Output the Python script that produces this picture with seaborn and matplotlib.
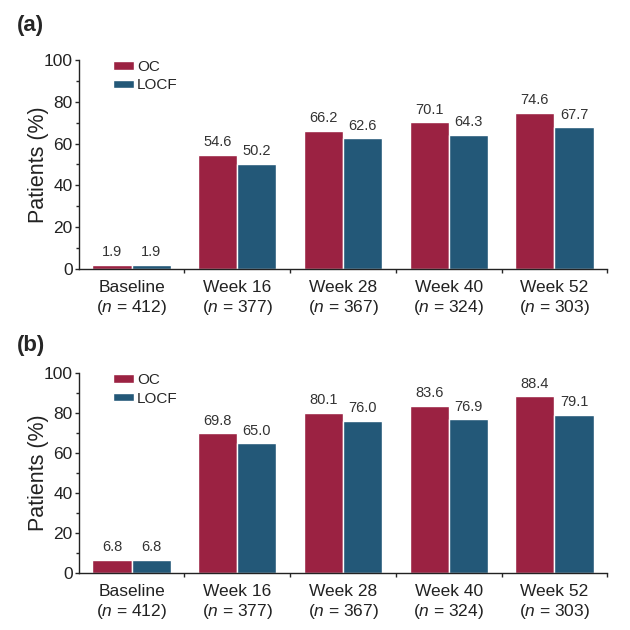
import numpy as np
import pandas as pd
import matplotlib
matplotlib.use("Agg")
import matplotlib.pyplot as plt
import seaborn as sns

# Data
timepoints = ["Baseline", "Week 16", "Week 28", "Week 40", "Week 52"]
n_values = [412, 377, 367, 324, 303]
methods = ["OC", "LOCF"]
oc_a = [1.9, 54.6, 66.2, 70.1, 74.6]
locf_a = [1.9, 50.2, 62.6, 64.3, 67.7]
oc_b = [6.8, 69.8, 80.1, 83.6, 88.4]
locf_b = [6.8, 65.0, 76.0, 76.9, 79.1]
panel_labels = ["(a)", "(b)"]

colors = {"OC": "#9b2242", "LOCF": "#235878"}

sns.set_style("ticks")
plt.rcParams["font.family"] = ["Liberation Sans", "DejaVu Sans"]
plt.rcParams["mathtext.fontset"] = "custom"
plt.rcParams["mathtext.it"] = "Liberation Sans:italic"
plt.rcParams["mathtext.rm"] = "Liberation Sans"

xlabels = [f"{t}\n($\\it{{n}}$ = {n})" for t, n in zip(timepoints, n_values)]


def make_df(oc, locf):
    return pd.DataFrame({
        "timepoint": timepoints * 2,
        "method": ["OC"] * len(timepoints) + ["LOCF"] * len(timepoints),
        "value": oc + locf,
    })


fig = plt.figure(figsize=(6.3, 6.3), dpi=100)
ax_a = fig.add_axes([0.125, 0.573, 0.839, 0.332])
ax_b = fig.add_axes([0.125, 0.090, 0.839, 0.318])
label_y = [0.960, 0.452]

for ax, (oc, locf), lab, ly in zip([ax_a, ax_b], [(oc_a, locf_a), (oc_b, locf_b)],
                                  panel_labels, label_y):
    df = make_df(oc, locf)
    sns.barplot(data=df, x="timepoint", y="value", hue="method", hue_order=methods,
                palette=colors, width=0.74, edgecolor="white", linewidth=1.0,
                saturation=1, ax=ax)
    for cont in ax.containers:
        ax.bar_label(cont, fmt="%.1f", padding=4, fontsize=10.5, color="#333333")

    ax.set_xlim(-0.5, 4.5)
    ax.set_ylim(0, 100)
    ax.set_yticks([0, 20, 40, 60, 80, 100])
    ax.set_yticks([10, 30, 50, 70, 90], minor=True)
    ax.set_xticks(range(len(timepoints)))
    ax.set_xticklabels(xlabels, fontsize=12.5, color="#222222")
    ax.set_xticks([0.5, 1.5, 2.5, 3.5, 4.5], minor=True)
    ax.tick_params(axis="x", which="major", length=0, pad=8)
    ax.tick_params(axis="x", which="minor", length=3, width=1)
    ax.tick_params(axis="y", which="major", length=3, width=1, labelsize=12.5,
                   labelcolor="#222222", pad=1.5)
    ax.tick_params(axis="y", which="minor", length=2.5, width=1)
    ax.set_xlabel("")
    ax.set_ylabel("Patients (%)", fontsize=15.5, color="#222222")
    ax.yaxis.set_label_coords(-0.056, 0.5)
    sns.despine(ax=ax)
    for s in ["left", "bottom"]:
        ax.spines[s].set_linewidth(1.0)
        ax.spines[s].set_color("#222222")

    ax.legend(loc="upper left", bbox_to_anchor=(0.064, 1.0), frameon=False,
              fontsize=11, handlelength=1.4, handleheight=0.45,
              handletextpad=0.2, labelspacing=0.3, borderaxespad=0, borderpad=0)
    fig.text(0.027, ly, lab, fontsize=16, fontweight="bold", ha="left", va="center")

fig.savefig("out.png", dpi=100)
